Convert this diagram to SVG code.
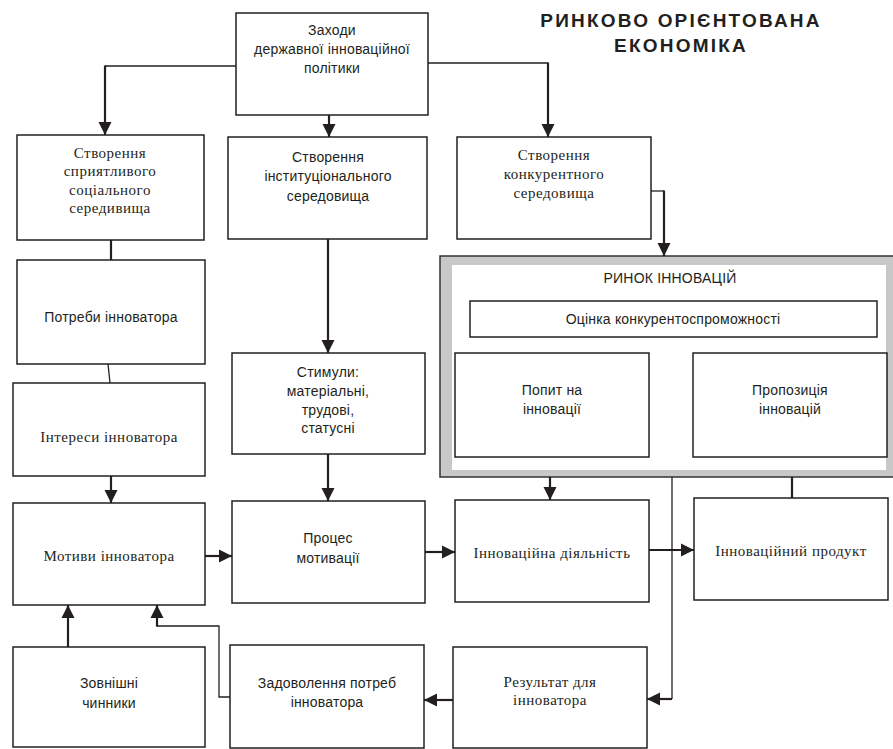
<svg xmlns="http://www.w3.org/2000/svg" width="893" height="749" viewBox="0 0 893 749">
<style>
.b{fill:#fff;stroke:#231f20;stroke-width:1.5}
.s{font-family:"Liberation Sans",Arial,sans-serif;font-size:14px;fill:#231f20;text-anchor:middle;letter-spacing:0.2px}
.r{font-family:"Liberation Serif","Times New Roman",serif;font-size:15px;fill:#231f20;text-anchor:middle;letter-spacing:0.5px}
.t{font-family:"Liberation Sans",Arial,sans-serif;font-size:19px;font-weight:bold;fill:#231f20;text-anchor:middle;letter-spacing:2.2px}
.k{fill:none;stroke:#231f20;stroke-width:2.2}
.n{fill:none;stroke:#231f20;stroke-width:1.3}
.a{marker-end:url(#ah)}
</style>
<defs>
<marker id="ah" markerUnits="userSpaceOnUse" markerWidth="14" markerHeight="14" refX="13" refY="7" orient="auto">
<path d="M0,0.5 L13,7 L0,13.5 Z" fill="#231f20"/>
</marker>
</defs>
<rect width="893" height="749" fill="#fff"/>
<g id="title">
<text class="t" x="681" y="27">РИНКОВО ОРІЄНТОВАНА</text>
<text class="t" x="681" y="52">ЕКОНОМІКА</text>
</g>
<g id="market">
<rect x="440" y="256" width="460" height="221" fill="#c8c8c8" stroke="#333" stroke-width="1.5"/>
<rect x="452" y="265" width="434" height="205" fill="#fff"/>
<text class="s" x="670" y="283">РИНОК ІННОВАЦІЙ</text>
</g>
<g id="n_zahody"><rect class="b" x="236" y="13" width="192" height="102"/><text class="s" x="332" y="35">Заходи</text><text class="s" x="332" y="54">державної інноваційної</text><text class="s" x="332" y="73">політики</text></g>
<g id="n_social"><rect class="b" x="17" y="135" width="187" height="105"/><text class="r" x="110" y="158">Створення</text><text class="r" x="110" y="176">сприятливого</text><text class="r" x="110" y="195">соціального</text><text class="r" x="110" y="213">середивища</text></g>
<g id="n_inst"><rect class="b" x="228" y="137" width="199" height="102"/><text class="s" x="328" y="162">Створення</text><text class="s" x="328" y="181">інституціонального</text><text class="s" x="328" y="201">середовища</text></g>
<g id="n_konk"><rect class="b" x="457" y="137" width="194" height="102"/><text class="r" x="554" y="160">Створення</text><text class="r" x="554" y="179">конкурентного</text><text class="r" x="554" y="198">середовища</text></g>
<g id="n_potreby"><rect class="b" x="17" y="260" width="188" height="104"/><text class="s" x="111" y="322">Потреби інноватора</text></g>
<g id="n_interesy"><rect class="b" x="13" y="383" width="192" height="93"/><text class="r" x="109" y="442">Інтереси інноватора</text></g>
<g id="n_stymuly"><rect class="b" x="232" y="353" width="193" height="101"/><text class="s" x="328" y="377">Стимули:</text><text class="s" x="328" y="396">матеріальні,</text><text class="s" x="328" y="415">трудові,</text><text class="s" x="328" y="433">статусні</text></g>
<g id="n_ocinka"><rect class="b" x="470" y="301" width="407" height="36"/><text class="s" x="673" y="324">Оцінка конкурентоспроможності</text></g>
<g id="n_popyt"><rect class="b" x="455" y="353" width="194" height="104"/><text class="s" x="552" y="395">Попит на</text><text class="s" x="552" y="414">інновації</text></g>
<g id="n_propoz"><rect class="b" x="693" y="353" width="194" height="104"/><text class="s" x="790" y="395">Пропозиція</text><text class="s" x="790" y="414">інновацій</text></g>
<g id="n_motyvy"><rect class="b" x="13" y="503" width="192" height="102"/><text class="r" x="109" y="561">Мотиви інноватора</text></g>
<g id="n_proces"><rect class="b" x="232" y="501" width="193" height="102"/><text class="s" x="328" y="543">Процес</text><text class="s" x="328" y="563">мотивації</text></g>
<g id="n_diyal"><rect class="b" x="455" y="500" width="194" height="102"/><text class="r" x="552" y="558">Інноваційна діяльність</text></g>
<g id="n_product"><rect class="b" x="694" y="498" width="194" height="102"/><text class="r" x="791" y="556">Інноваційний продукт</text></g>
<g id="n_zovn"><rect class="b" x="13" y="647" width="192" height="100"/><text class="s" x="109" y="688">Зовнішні</text><text class="s" x="109" y="708">чинники</text></g>
<g id="n_zadov"><rect class="b" x="230" y="645" width="194" height="103"/><text class="s" x="327" y="688">Задоволення потреб</text><text class="s" x="327" y="707">інноватора</text></g>
<g id="n_result"><rect class="b" x="453" y="647" width="194" height="101"/><text class="r" x="550" y="687">Результат для</text><text class="r" x="550" y="705">інноватора</text></g>
<g id="connectors">
<path class="n" d="M236,66 H105"/>
<path class="k a" d="M105,65.5 V135"/>
<path class="k a" d="M329,115 V137"/>
<path class="n" d="M428,63 H548"/>
<path class="k a" d="M548,62.5 V137"/>
<path class="n" d="M651,191 H664"/>
<path class="k a" d="M664,190.5 V256"/>
<path class="k" d="M111,240 V260"/>
<path class="n" d="M108,364 L110,383"/>
<path class="k a" d="M111,476 V503"/>
<path class="k a" d="M328,239 V353"/>
<path class="k a" d="M328,454 V501"/>
<path class="k a" d="M205,556 H232"/>
<path class="k a" d="M425,552 H455"/>
<path class="k a" d="M550,477 V500"/>
<path class="k a" d="M649,550 H694"/>
<path class="n" d="M672,477 V699"/>
<path class="k a" d="M672,699 H647"/>
<path class="k" d="M792,477 V498"/>
<path class="k a" d="M453,700 H424"/>
<path class="n" d="M230,697 H219 V626 H157"/>
<path class="k a" d="M157,626.6 V605"/>
<path class="k a" d="M68,647 V605"/>
</g>
</svg>
